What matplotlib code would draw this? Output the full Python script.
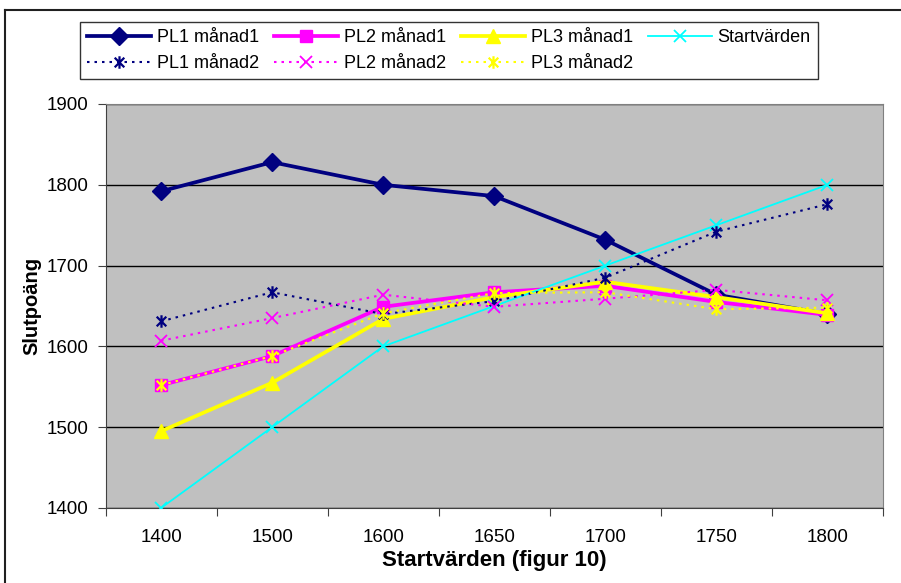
import matplotlib.pyplot as plt
from matplotlib.path import Path
from matplotlib.lines import Line2D

plt.rcParams['font.family'] = ['Liberation Sans', 'DejaVu Sans']

# data
categories = ["1400", "1500", "1600", "1650", "1700", "1750", "1800"]
pl1_m1 = [1792, 1828, 1800, 1786, 1732, 1664, 1640]
pl2_m1 = [1552, 1588, 1649, 1667, 1675, 1655, 1639]
pl3_m1 = [1495, 1555, 1634, 1661, 1680, 1661, 1641]
start = [1400, 1500, 1600, 1650, 1700, 1750, 1800]
pl1_m2 = [1631, 1667, 1640, 1656, 1685, 1742, 1776]
pl2_m2 = [1607, 1635, 1664, 1649, 1659, 1670, 1657]
pl3_m2 = [1552, 1588, 1641, 1666, 1667, 1646, 1648]

# Excel-style star: an x with a vertical bar
star = Path([(-1, -1), (1, 1), (-1, 1), (1, -1), (0, -1.3), (0, 1.3)],
            [Path.MOVETO, Path.LINETO, Path.MOVETO, Path.LINETO, Path.MOVETO, Path.LINETO])

navy = "#000080"
magenta = "#FF00FF"
yellow = "#FFFF00"
cyan = "#00FFFF"

fig = plt.figure(figsize=(9.01, 5.83), dpi=100)
ax = fig.add_axes([105.5 / 901, 1 - 508 / 583, 777.5 / 901, 404 / 583])
ax.set_facecolor("#C0C0C0")

x = list(range(len(categories)))
dots = (0, (1.2, 2.4))

h1, = ax.plot(x, pl1_m1, color=navy, lw=2.7, marker="D", ms=9.5, label="PL1 månad1", zorder=3)
h2, = ax.plot(x, pl2_m1, color=magenta, lw=2.7, marker="s", ms=9, label="PL2 månad1", zorder=3)
h3, = ax.plot(x, pl3_m1, color=yellow, lw=2.7, marker="^", ms=10, label="PL3 månad1", zorder=3)
h4, = ax.plot(x, start, color=cyan, lw=1.3, marker="x", ms=9, mew=1.3, label="Startvärden", zorder=3)
h5, = ax.plot(x, pl1_m2, color=navy, lw=1.5, ls=dots, marker=star, ms=9, mew=1.6, label="PL1 månad2", zorder=3)
h6, = ax.plot(x, pl2_m2, color=magenta, lw=1.5, ls=dots, marker="x", ms=9, mew=1.3, label="PL2 månad2", zorder=3)
h7, = ax.plot(x, pl3_m2, color=yellow, lw=1.5, ls=dots, marker=star, ms=9, mew=1.6, label="PL3 månad2", zorder=3)

ax.set_xlim(-0.5, len(categories) - 0.5)
ax.set_ylim(1400, 1900)
ax.set_yticks(range(1400, 1901, 100))
ax.yaxis.grid(True, color="black", lw=1.0)
ax.set_axisbelow(True)

# category ticks between groups, labels centred
ax.set_xticks([i - 0.5 for i in range(len(categories) + 1)])
ax.set_xticklabels([])
ax.set_xticks(x, minor=True)
ax.set_xticklabels(categories, minor=True, fontsize=13.5)
ax.tick_params(axis="x", which="minor", length=0, pad=15)
ax.tick_params(axis="x", which="major", length=6, direction="out", color="#404040")
ax.tick_params(axis="y", length=6, direction="out", labelsize=13.5, color="#404040", pad=6)

for side in ["left", "bottom"]:
    ax.spines[side].set_color("#404040")
for side in ["top", "right"]:
    ax.spines[side].set_color("#808080")

ax.set_xlabel("Startvärden (figur 10)", fontsize=16, fontweight="bold", labelpad=3)
ax.set_ylabel("Slutpoäng", fontsize=14.5, fontweight="bold", labelpad=4)

# order so that column-major filling gives Excel's row layout
handles = [h1, h5, h2, h6, h3, h7, h4]
leg = fig.legend(handles=handles, labels=[h.get_label() for h in handles],
                 loc="upper left", bbox_to_anchor=(80 / 901, 1 - 22 / 583), ncol=4,
                 fontsize=13, frameon=True, fancybox=False, edgecolor="black",
                 handlelength=3.55, columnspacing=0.85, handletextpad=0.3,
                 borderpad=0.4, labelspacing=0.5, borderaxespad=0)
leg.get_frame().set_linewidth(1.0)

# outer chart border (top and left edges visible)
fig.add_artist(Line2D([5 / 901, 1], [1 - 9.5 / 583] * 2, transform=fig.transFigure,
                      color="#202020", lw=1.5))
fig.add_artist(Line2D([5 / 901] * 2, [0, 1 - 9.5 / 583], transform=fig.transFigure,
                      color="#202020", lw=1.5))

fig.savefig("out.png", dpi=100)
